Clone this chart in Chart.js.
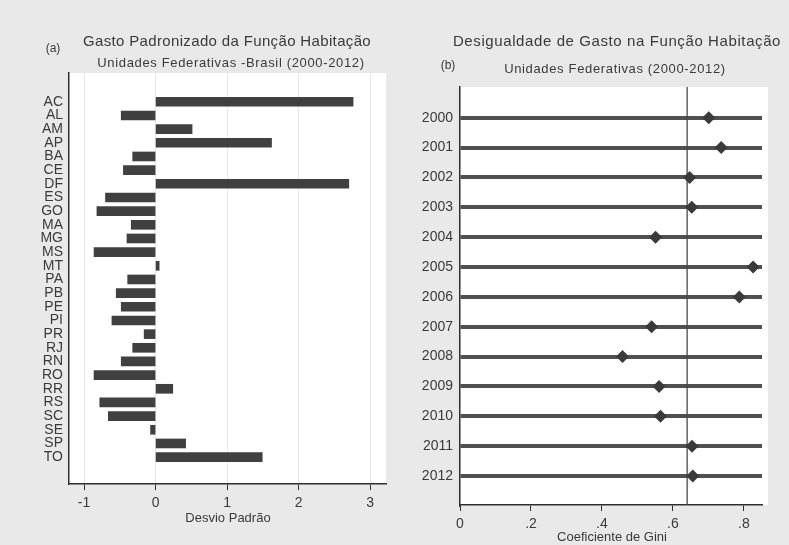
<!DOCTYPE html>
<html>
<head>
<meta charset="utf-8">
<script src="https://cdn.jsdelivr.net/npm/chart.js@4.4.1/dist/chart.umd.min.js"></script>
<style>
  html, body { margin: 0; padding: 0; background: #e9e9e9; }
  #wrap { position: relative; width: 789px; height: 545px; overflow: hidden;
          font-family: "Liberation Sans", Arial, sans-serif; color: #3a3a3a; }
  canvas { position: absolute; top: 0; }
  .t { position: absolute; white-space: nowrap; transform: translate(-50%, -50%); line-height: 1; }
</style>
</head>
<body>
<div id="wrap">
  <canvas id="chartA" width="395" height="545" style="left:0;width:395px;height:545px"></canvas>
  <canvas id="chartB" width="394" height="545" style="left:395px;width:394px;height:545px"></canvas>

  <div class="t" style="left:227px;top:40px;font-size:15px;letter-spacing:0.35px">Gasto Padronizado da Função Habitação</div>
  <div class="t" style="left:231px;top:62px;font-size:13px;letter-spacing:0.65px">Unidades Federativas -Brasil (2000-2012)</div>
  <div class="t" style="left:53px;top:48px;font-size:12px">(a)</div>
  <div class="t" style="left:228px;top:517px;font-size:13px">Desvio Padrão</div>

  <div class="t" style="left:617px;top:40px;font-size:15px;letter-spacing:0.6px">Desigualdade de Gasto na Função Habitação</div>
  <div class="t" style="left:615px;top:68px;font-size:13px;letter-spacing:0.65px">Unidades Federativas (2000-2012)</div>
  <div class="t" style="left:448px;top:65px;font-size:12px">(b)</div>
  <div class="t" style="left:612px;top:536px;font-size:13px">Coeficiente de Gini</div>
</div>

<script>
// (a) standardized housing spending by state
const states = ['AC','AL','AM','AP','BA','CE','DF','ES','GO','MA','MG','MS','MT','PA',
                'PB','PE','PI','PR','RJ','RN','RO','RR','RS','SC','SE','SP','TO'];
const desvioPadrao = [2.76, -0.48, 0.51, 1.62, -0.32, -0.45, 2.70, -0.70, -0.82, -0.34,
                      -0.40, -0.86, 0.05, -0.39, -0.55, -0.48, -0.61, -0.16, -0.32, -0.48,
                      -0.86, 0.24, -0.78, -0.66, -0.07, 0.42, 1.49];
const desvioTicks = [-1, 0, 1, 2, 3];

// (b) Gini coefficient of housing spending by year
const years = [2000, 2001, 2002, 2003, 2004, 2005, 2006, 2007, 2008, 2009, 2010, 2011, 2012];
const gini = [0.701, 0.736, 0.647, 0.653, 0.551, 0.826, 0.787, 0.540, 0.458, 0.561, 0.565, 0.654, 0.656];
const giniTicks = [0, 0.2, 0.4, 0.6, 0.8];
const giniReference = 0.64;

const FONT = '"Liberation Sans", Arial, sans-serif';
const TEXT = '#3a3a3a';
const AXIS = '#2e2e2e';

// white plot region behind the axes
function plotBackground(extraRight) {
  return {
    id: 'plotBackground',
    beforeDraw(chart) {
      const { ctx, chartArea: a } = chart;
      ctx.save();
      ctx.fillStyle = '#ffffff';
      ctx.fillRect(a.left, a.top, a.right - a.left + extraRight, a.bottom - a.top);
      ctx.restore();
    }
  };
}

new Chart(document.getElementById('chartA'), {
  type: 'bar',
  data: {
    datasets: [{
      data: states.map((s, i) => ({ x: desvioPadrao[i], y: i })),
      backgroundColor: '#404040',
      borderWidth: 0,
      barThickness: 9
    }]
  },
  options: {
    indexAxis: 'y',
    responsive: false,
    animation: false,
    events: [],
    layout: { padding: { top: 73, right: 9, bottom: 0, left: 0 } },
    plugins: { legend: { display: false }, tooltip: { enabled: false } },
    scales: {
      x: {
        type: 'linear',
        min: -1.21, max: 3.22,
        afterBuildTicks: s => { s.ticks = desvioTicks.map(v => ({ value: v })); },
        afterFit: s => { s.height = 61; },
        grid: { color: '#e8e8e8', lineWidth: 1, tickColor: AXIS, tickLength: 6 },
        border: { display: true, color: AXIS, width: 1.5 },
        ticks: { color: TEXT, padding: 5, font: { family: FONT, size: 14 },
                 callback: v => String(v) }
      },
      y: {
        type: 'linear',
        reverse: true,
        min: -1.55, max: 27.41,
        afterBuildTicks: s => { s.ticks = states.map((_, i) => ({ value: i })); },
        afterFit: s => { s.width = 69; },
        grid: { display: false, drawTicks: false },
        border: { display: true, color: AXIS, width: 1.5 },
        ticks: { color: TEXT, padding: 6, autoSkip: false, font: { family: FONT, size: 14 },
                 callback: v => states[v] }
      }
    }
  },
  plugins: [plotBackground(0)]
});

// vertical reference line at the overall level
const referenceLine = {
  id: 'referenceLine',
  beforeDatasetsDraw(chart) {
    const { ctx, chartArea: a, scales: { x } } = chart;
    const px = x.getPixelForValue(giniReference);
    ctx.save();
    ctx.strokeStyle = '#4a4a4a';
    ctx.lineWidth = 1.3;
    ctx.beginPath();
    ctx.moveTo(px, a.top);
    ctx.lineTo(px, a.bottom);
    ctx.stroke();
    ctx.restore();
  }
};

new Chart(document.getElementById('chartB'), {
  type: 'scatter',
  data: {
    datasets: [{
      data: years.map((yr, i) => ({ x: gini[i], y: yr })),
      pointStyle: 'rectRot',
      pointRadius: 6.5,
      backgroundColor: '#3a3a3a',
      borderWidth: 0
    }]
  },
  options: {
    responsive: false,
    animation: false,
    events: [],
    layout: { padding: { top: 87, right: 27, bottom: 0, left: 0 } },
    plugins: { legend: { display: false }, tooltip: { enabled: false } },
    scales: {
      x: {
        type: 'linear',
        min: 0, max: 0.851,
        afterBuildTicks: s => { s.ticks = giniTicks.map(v => ({ value: v })); },
        afterFit: s => { s.height = 40; },
        grid: { drawOnChartArea: false, tickColor: AXIS, tickLength: 6 },
        border: { display: true, color: AXIS, width: 1.5 },
        ticks: { color: TEXT, padding: 5, font: { family: FONT, size: 14 },
                 callback: v => v === 0 ? '0' : String(v).replace(/^0/, '') }
      },
      y: {
        type: 'linear',
        reverse: true,
        min: 1998.97, max: 2012.97,
        afterBuildTicks: s => { s.ticks = years.map(v => ({ value: v })); },
        afterFit: s => { s.width = 65; },
        grid: { color: '#505050', lineWidth: 4, drawTicks: false },
        border: { display: true, color: AXIS, width: 1.5 },
        ticks: { color: TEXT, padding: 7, font: { family: FONT, size: 14 },
                 callback: v => String(v) }
      }
    }
  },
  plugins: [plotBackground(6), referenceLine]
});
</script>
</body>
</html>
